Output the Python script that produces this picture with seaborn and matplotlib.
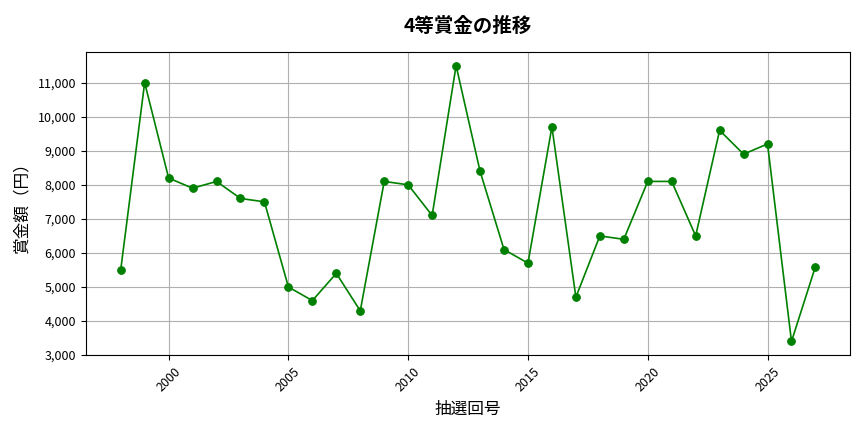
import matplotlib
matplotlib.use("Agg")
import matplotlib.pyplot as plt
import matplotlib.ticker as mticker
import seaborn as sns
import pandas as pd

years = list(range(1998, 2028))
prize = [5500, 11000, 8200, 7900, 8100, 7600, 7500, 5000, 4600, 5400,
         4300, 8100, 8000, 7100, 11500, 8400, 6100, 5700, 9700, 4700,
         6500, 6400, 8100, 8100, 6500, 9600, 8900, 9200, 3400, 5600]

title = "4等賞金の推移"
xlabel = "抽選回号"
ylabel = "賞金額（円）"

plt.rcParams['font.family'] = ['Noto Sans CJK JP', 'DejaVu Sans']

df = pd.DataFrame({"year": years, "prize": prize})

fig, ax = plt.subplots(figsize=(8.64, 4.32), dpi=100)
sns.lineplot(data=df, x="year", y="prize", marker="o", color="green",
             markersize=5.5, markeredgecolor="green", linewidth=1.2, ax=ax)
ax.set_ylim(bottom=3000)
ax.grid(True, color="#b0b0b0", linewidth=0.8)
ax.yaxis.set_major_formatter(mticker.FuncFormatter(lambda v, p: f"{int(v):,}"))
ax.tick_params(axis="x", labelrotation=45, labelsize=9)
ax.tick_params(axis="y", labelsize=9)
ax.set_title(title, fontsize=14, fontweight="bold", pad=14)
ax.set_xlabel(xlabel, fontsize=12, labelpad=5)
ax.set_ylabel(ylabel, fontsize=12, labelpad=5)
fig.subplots_adjust(left=0.0995, right=0.984, top=0.88, bottom=0.178)
fig.savefig("out.png", dpi=100)
